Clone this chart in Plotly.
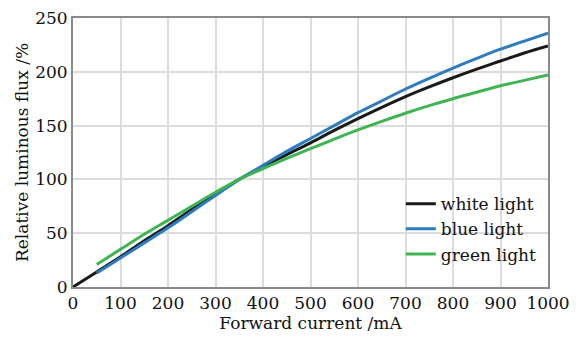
import plotly.graph_objects as go

current = [0, 50, 100, 150, 200, 250, 300, 350, 400, 450, 500, 550, 600, 650, 700, 750, 800, 850, 900, 950, 1000]
white = [0, 14, 28, 43, 57, 72, 86, 100, 112, 123, 134, 145.5, 156.5, 167, 177, 186, 194.5, 202.5, 210, 217.5, 224]
current_bg = [50, 100, 150, 200, 250, 300, 350, 400, 450, 500, 550, 600, 650, 700, 750, 800, 850, 900, 950, 1000]
blue = [13, 27, 41, 55, 70, 85, 100, 113, 126, 138, 150, 162, 173, 184, 194, 203.5, 212.5, 221, 228.5, 236]
green = [21, 35, 49, 62, 75, 88, 100, 110, 119.5, 128.5, 137.5, 146, 154, 161.5, 168.5, 175, 181, 187, 192, 197]

FONT = "DejaVu Serif"
FS = 17

fig = go.Figure()
fig.add_trace(go.Scatter(x=current, y=white, mode="lines", name="white light",
                         line=dict(color="#1a1a1a", width=3, shape="spline", smoothing=1)))
fig.add_trace(go.Scatter(x=current_bg, y=blue, mode="lines", name="blue light",
                         line=dict(color="#2d7cc1", width=3, shape="spline", smoothing=1)))
fig.add_trace(go.Scatter(x=current_bg, y=green, mode="lines", name="green light",
                         line=dict(color="#3fb552", width=3, shape="spline", smoothing=1)))

axis_common = dict(showgrid=True, gridcolor="#dcdcdc", gridwidth=1.5,
                   showline=True, linecolor="#8a8a8a", linewidth=2, mirror=True,
                   ticks="", zeroline=False, automargin=False,
                   ticklabeloverflow="allow",
                   tickfont=dict(family=FONT, size=FS, color="#111"))

fig.update_xaxes(range=[0, 1000], dtick=100, tick0=0,
                 title=dict(text="Forward current /mA", font=dict(family=FONT, size=FS, color="#111"), standoff=0),
                 **axis_common)
fig.update_yaxes(range=[0, 250], dtick=50, tick0=0,
                 title=dict(text="Relative luminous flux /%", font=dict(family=FONT, size=FS, color="#111"), standoff=2),
                 **axis_common)

# The page body adds an 8px offset, so the figure is sized to fill the remaining window.
fig.update_layout(
    width=575, height=332,
    margin=dict(l=64.5, r=34.7, t=10, b=52.7),
    plot_bgcolor="white", paper_bgcolor="white",
    font=dict(family=FONT, size=FS, color="#111"),
    legend=dict(x=0.987, xanchor="right", y=0.375, yanchor="top",
                bgcolor="rgba(255,255,255,0)", borderwidth=0,
                font=dict(family=FONT, size=FS, color="#111"),
                tracegroupgap=0, itemwidth=30),
)

fig.write_html("out.html")
